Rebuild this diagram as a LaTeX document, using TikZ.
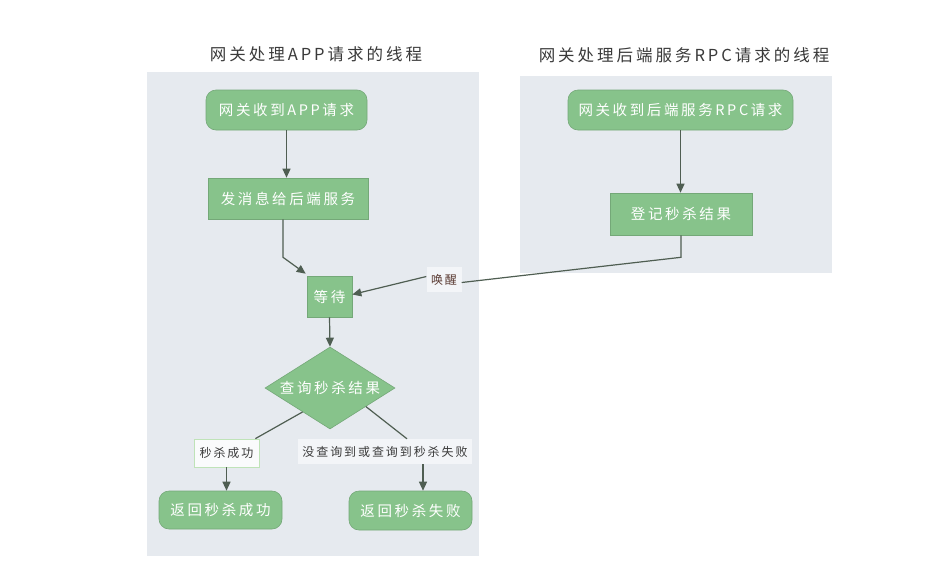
\documentclass[tikz,border=0pt]{standalone}
\usepackage{fontspec}
\setmainfont{Noto Sans CJK SC}
\newfontfamily\nodefont[LetterSpace=18]{Noto Sans CJK SC}
\newfontfamily\titlefont[LetterSpace=18]{Noto Sans CJK SC}
\newfontfamily\labfont[LetterSpace=16]{Noto Sans CJK SC}
\usetikzlibrary{arrows.meta,shapes.geometric,calc}
\definecolor{panelbg}{HTML}{E6EAEF}
\definecolor{nodefill}{HTML}{87C38B}
\definecolor{nodeline}{HTML}{74A878}
\definecolor{arrowc}{HTML}{4F5E52}
\definecolor{titlec}{HTML}{3A3A3A}
\definecolor{labbg}{HTML}{F3F5F8}
\definecolor{labline}{HTML}{BFE3B8}
\definecolor{wakec}{HTML}{5A3A32}
\begin{document}
\begin{tikzpicture}[x=1pt,y=-1pt,
  panel/.style={fill=panelbg,draw=none},
  title/.style={text=titlec,font=\titlefont\fontsize{16.5}{19}\selectfont,inner sep=0},
  boxbase/.style={fill=nodefill,draw=nodeline,line width=0.6pt,text=white,
     font=\nodefont\fontsize{14.5}{17}\selectfont,inner sep=0},
  rbox/.style={boxbase,rounded corners=10pt},
  sbox/.style={boxbase},
  dbox/.style={boxbase,diamond},
  lab/.style={fill=labbg,draw=none,text=titlec,font=\labfont\fontsize{12}{14}\selectfont,inner sep=0},
  arr/.style={draw=arrowc,line width=1.2pt,-{Triangle[length=9pt,width=8pt]}},
  ln/.style={draw=arrowc,line width=1.2pt}
]
\useasboundingbox (0,0) rectangle (944,576);
\fill[white] (0,0) rectangle (944,576);
% panels
\path[panel] (147,72) rectangle (479,556);
\path[panel] (520,76) rectangle (832,273);
% titles
\node[title] (t1) at (316,54) {网关处理APP请求的线程};
\node[title] (t2) at (684,55) {网关处理后端服务RPC请求的线程};
% left thread
\node[rbox,minimum width=161,minimum height=40] (n1) at (286.5,110) {网关收到APP请求};
\node[sbox,minimum width=160,minimum height=41] (n2) at (288,198.5) {发消息给后端服务};
\node[sbox,minimum width=45,minimum height=41] (n3) at (329.5,296.5) {等待};
\node[dbox,minimum width=130,minimum height=82] (d) at (330,388) {\makebox[0pt]{查询秒杀结果}};
\node[lab,fill=white!60!labbg,draw=labline,line width=0.8pt,minimum width=65,minimum height=28] (l1) at (226.5,453) {秒杀成功};
\node[lab,minimum width=174,minimum height=25] (l2) at (385,451.5) {没查询到或查询到秒杀失败};
\node[rbox,minimum width=123,minimum height=38] (n4) at (220.5,510) {返回秒杀成功};
\node[rbox,minimum width=123,minimum height=39] (n5) at (410.5,510.5) {返回秒杀失败};
% right thread
\node[rbox,minimum width=225,minimum height=40] (r1) at (680.5,110) {网关收到后端服务RPC请求};
\node[sbox,minimum width=142,minimum height=42] (r2) at (681,214) {登记秒杀结果};
\node[lab,text=wakec,minimum width=35,minimum height=25] (w) at (444,279.5) {唤醒};
% connectors
\draw[arr] (n1.south) -- (n1.south |- n2.north);
\draw[arr] ([xshift=-5pt]n2.south) -- ++(0,38) -- ([xshift=-1pt,yshift=2pt]n3.north west);
\draw[arr] (n3.south) -- (d.north);
\draw[ln] ($(d.west)!0.58!(d.south)$) -- ([xshift=-4pt]l1.north east);
\draw[arr] (l1.south) -- (l1.south |- n4.north);
\draw[ln] ($(d.east)!0.45!(d.south)$) -- ([xshift=22pt]l2.north);
\draw[arr] ([xshift=38pt]l2.south) -- ([xshift=38pt]l2.south |- n5.north);
\draw[arr] (r1.south) -- (r1.south |- r2.north);
\draw[ln] (r2.south) -- ++(0,22) coordinate (bend) -- ([yshift=-3pt]w.east);
\draw[arr] ([yshift=3pt]w.west) -- ([yshift=2pt]n3.east);
\end{tikzpicture}
\end{document}
